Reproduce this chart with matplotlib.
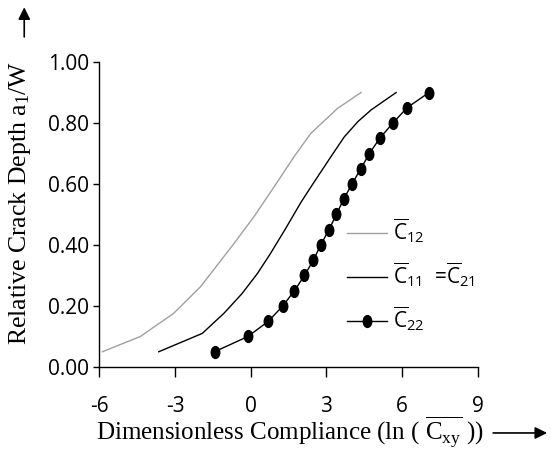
import matplotlib
matplotlib.use("Agg")
import matplotlib.pyplot as plt
from matplotlib.path import Path
from matplotlib.transforms import Affine2D

plt.rcParams['font.family'] = ['Open Sans', 'DejaVu Sans']
plt.rcParams['mathtext.fontset'] = 'custom'
plt.rcParams['mathtext.rm'] = 'Liberation Serif'
plt.rcParams['mathtext.it'] = 'Liberation Serif:italic'
plt.rcParams['mathtext.sf'] = 'Open Sans'

c12_x = [-5.87, -4.37, -3.05, -1.99, -0.66, 0.13, 0.93, 1.72, 2.38, 3.44, 4.37]
c12_y = [0.05, 0.10, 0.176, 0.263, 0.405, 0.493, 0.591, 0.690, 0.766, 0.848, 0.90]

c11_x = [-3.64, -1.92, -1.06, -0.35, 0.27, 0.79, 1.39, 1.99, 2.5, 3.18, 3.71, 4.25, 4.77, 5.76]
c11_y = [0.05, 0.11, 0.176, 0.24, 0.307, 0.373, 0.455, 0.54, 0.605, 0.69, 0.755, 0.805, 0.843, 0.90]

c22_x = [-1.43, -0.11, 0.70, 1.27, 1.73, 2.13, 2.48, 2.77, 3.10, 3.39, 3.68,
         4.01, 4.36, 4.70, 5.11, 5.63, 6.19, 7.06]
c22_y = [0.05, 0.10, 0.15, 0.20, 0.25, 0.30, 0.35, 0.40, 0.45, 0.50, 0.55,
         0.60, 0.65, 0.70, 0.75, 0.80, 0.85, 0.90]

x_ticks = [-6, -3, 0, 3, 6, 9]
y_ticks = [0.0, 0.2, 0.4, 0.6, 0.8, 1.0]

# slightly tall dots like in the original
dot = Path.unit_circle().transformed(Affine2D().scale(0.72, 1.0))

fig = plt.figure(figsize=(5.51, 4.51), dpi=100)
ax = fig.add_axes([0.18, 0.1863, 0.6875, 0.6762])

ax.plot(c12_x, c12_y, color='#a0a0a0', lw=1.0,
        label=r'$\overline{\mathsf{C}}_{\mathsf{12}}$')
ax.plot(c11_x, c11_y, color='black', lw=1.0,
        label=r'$\overline{\mathsf{C}}_{\mathsf{11}}$  =$\overline{\mathsf{C}}_{\mathsf{21}}$')
ax.plot(c22_x, c22_y, color='black', lw=1.0, marker=dot, markersize=8.5,
        label=r'$\overline{\mathsf{C}}_{\mathsf{22}}$')

ax.set_xlim(-6, 9)
ax.set_ylim(0, 1)
ax.set_xticks(x_ticks)
ax.set_xticklabels([str(t) for t in x_ticks])
ax.set_yticks(y_ticks)
ax.set_yticklabels(['%.2f' % t for t in y_ticks])
ax.tick_params(axis='x', direction='out', length=7, width=1, pad=14, labelsize=15)
ax.tick_params(axis='y', direction='out', length=4, width=1, pad=3, labelsize=15)
for s in ['top', 'right']:
    ax.spines[s].set_visible(False)
for s in ['left', 'bottom']:
    ax.spines[s].set_linewidth(1)

ax.legend(loc='upper left', bbox_to_anchor=(0.628, 0.525), frameon=False,
          fontsize=15, handlelength=1.9, handletextpad=0.3, labelspacing=0.75,
          borderpad=0)

fig.text(0.036, 0.549, 'Relative Crack Depth a$_\\mathrm{1}$/W', rotation=90,
         ha='center', va='center', family='Liberation Serif', fontsize=18.5)
fig.text(0.527, 0.039, r'Dimensionless Compliance (ln ( $\overline{\mathrm{C}_{\mathrm{xy}}}$ ))',
         ha='center', va='center', family='Liberation Serif', fontsize=18)

# arrows along the axis labels
ax.annotate('', xy=(0.998, 0.040), xytext=(0.89, 0.040), xycoords='figure fraction',
            arrowprops=dict(arrowstyle='-|>', color='black', lw=1.2, mutation_scale=18))
ax.annotate('', xy=(0.044, 0.99), xytext=(0.044, 0.912), xycoords='figure fraction',
            arrowprops=dict(arrowstyle='-|>', color='black', lw=1.2, mutation_scale=18))

fig.savefig('out.png', dpi=100)
